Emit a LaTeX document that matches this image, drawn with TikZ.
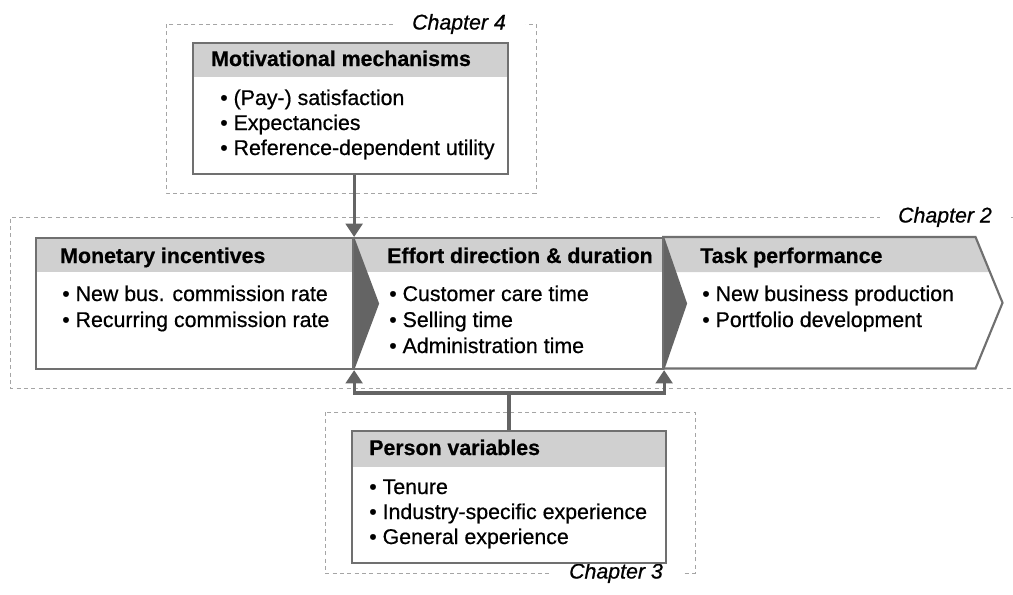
\documentclass[tikz,border=0pt]{standalone}
\usepackage{fontspec}
\setmainfont{Liberation Sans}
\newfontfamily\itemfont{Liberation Sans}[FakeBold=0.6]
\newfontfamily\headfont{Liberation Sans Bold}[FakeBold=0.6]
\usepackage{tikz}
\usetikzlibrary{
  arrows.meta,
  positioning,
  calc,
  backgrounds
}
\definecolor{bandgray}{RGB}{208,208,208}
\definecolor{framegray}{RGB}{112,112,112}
\definecolor{arrowgray}{RGB}{100,100,100}
\definecolor{dashgray}{RGB}{165,165,165}

\begin{document}
\begin{tikzpicture}[
  x=0.75pt, y=-0.75pt,
  box/.style={draw=framegray, line width=1.6pt, inner sep=0, anchor=north west, minimum height=98.25pt},
  stage/.style={inner sep=0, anchor=north west, minimum height=98.25pt},
  chapter/.style={draw=dashgray, dash pattern=on 3pt off 2.5pt, line width=0.6pt},
  chaplabel/.style={fill=white, font=\fontsize{16}{19}\selectfont\itemfont\itshape, inner xsep=14pt, inner ysep=2pt},
  head/.style={anchor=base west, inner sep=0, font=\fontsize{16}{19}\selectfont\headfont},
  item/.style={anchor=base west, inner sep=0, font=\fontsize{16}{19}\selectfont\itemfont},
  flow/.style={draw=arrowgray, line width=2.4pt, -{Triangle[length=10pt, width=12.5pt]}}
]
  \useasboundingbox (0,0) rectangle (1013,594);

  % Chapter frames
  \draw[chapter] (166,24) rectangle (536,193);
  \node[chaplabel] (ch4) at (459,24) {Chapter 4};
  \draw[chapter] (1013,217) -- (10,217) -- (10,388) -- (1013,388);
  \node[chaplabel] (ch2) at (945,217) {Chapter 2};
  \draw[chapter] (325,412) rectangle (695,573);
  \node[chaplabel] (ch3) at (616,573) {Chapter 3};

  % Motivational mechanisms
  \node[box, minimum width=236.25pt] (mot) at (192,42) {};
  \node[head] (moth) at (211,66) {Motivational mechanisms};
  \foreach \t [count=\i] in {(Pay-) satisfaction, Expectancies, Reference-dependent utility} {
    \node[item] (mot\i) at (220,80+25*\i) {\textbullet\ \t};
  }

  % Monetary incentives
  \node[box, minimum width=237.75pt] (mon) at (35,237) {};
  \node[head] (monh) at (60,263) {Monetary incentives};
  \foreach \t [count=\i] in {New bus. commission rate, Recurring commission rate} {
    \node[item] (mon\i) at (62,275+26*\i) {\textbullet\ \t};
  }

  % Effort direction & duration
  \node[box, minimum width=232.5pt] (eff) at (352,237) {};
  \node[head] (effh) at (387,263) {Effort direction \& duration};
  \foreach \t [count=\i] in {Customer care time, Selling time, Administration time} {
    \node[item] (eff\i) at (389,275+26*\i) {\textbullet\ \t};
  }

  % Task performance
  \node[stage, minimum width=234.75pt] (task) at (662,237) {};
  \draw[framegray, line width=1.6pt] (task.north west) -- (task.north east)
    -- ($(task.east)+(27,0)$) -- (task.south east) -- (task.south west);
  \node[head] (taskh) at (700,263) {Task performance};
  \foreach \t [count=\i] in {New business production, Portfolio development} {
    \node[item] (task\i) at (702,275+26*\i) {\textbullet\ \t};
  }

  % Person variables
  \node[box, minimum width=235.5pt, minimum height=99pt] (pers) at (351,430) {};
  \node[head] (persh) at (369,455) {Person variables};
  \foreach \t [count=\i] in {Tenure, Industry-specific experience, General experience} {
    \node[item] (pers\i) at (369,469+25*\i) {\textbullet\ \t};
  }

  % Header bands and chevron tips
  \begin{scope}[on background layer]
    \fill[bandgray] (mot.north west) rectangle ($(mot.north east)+(0,35)$);
    \fill[bandgray] (mon.north west) rectangle ($(eff.north east)+(0,35)$);
    \fill[bandgray] (task.north west) -- (task.north east)
      -- ($(task.north east)+(14.4,35)$) -- ($(task.north west)+(0,35)$) -- cycle;
    \fill[bandgray] (pers.north west) rectangle ($(pers.north east)+(0,37)$);
    \fill[arrowgray] (mon.north east) -- ($(mon.east)+(25,0)$) -- (mon.south east) -- cycle;
    \fill[arrowgray] (eff.north east) -- ($(eff.east)+(23,0)$) -- (eff.south east) -- cycle;
  \end{scope}

  % Connections
  \draw[flow] (mon.north east |- mot.south) -- (mon.north east);
  \draw[flow] (pers.north) -- ++(0,-37) -| (mon.south east);
  \draw[flow] (pers.north) -- ++(0,-37) -| (eff.south east);
\end{tikzpicture}
\end{document}
